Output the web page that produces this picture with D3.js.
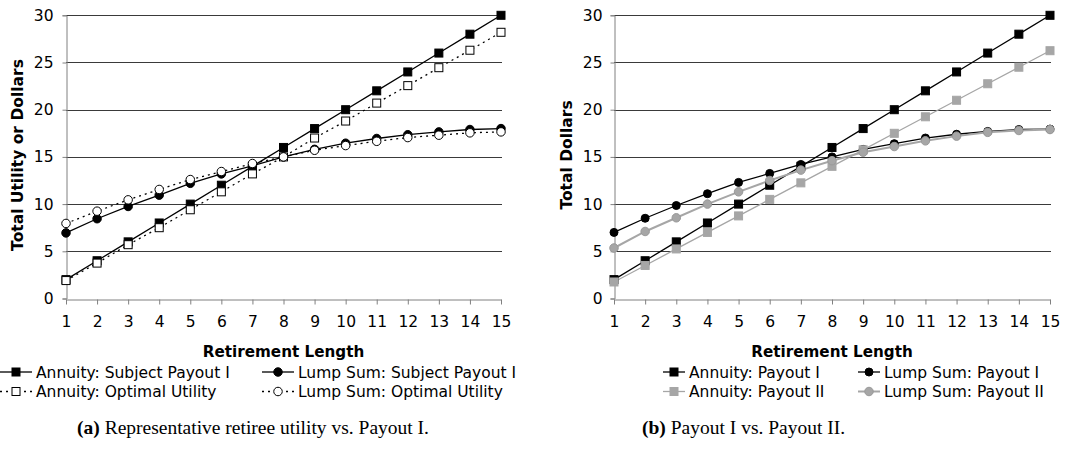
<!DOCTYPE html>
<html>
<head>
<meta charset="utf-8">
<script src="https://cdn.jsdelivr.net/npm/d3@7/dist/d3.min.js"></script>
<style>
  html, body { margin: 0; padding: 0; background: #fff; }
  svg { display: block; }
  text { fill: #000; }
</style>
</head>
<body>
<svg id="fig" width="1073" height="464"></svg>
<script>
// Retirement length in years
const years = [1, 2, 3, 4, 5, 6, 7, 8, 9, 10, 11, 12, 13, 14, 15];
const yTicks = [0, 5, 10, 15, 20, 25, 30];

// Panel (a): representative retiree utility vs. Payout I
const annuitySubjectI   = [2, 4, 6, 8, 10, 12, 14, 16, 18, 20, 22, 24, 26, 28, 30];
const annuityOptimal    = [1.9, 3.75, 5.7, 7.5, 9.4, 11.3, 13.2, 15.0, 17.0, 18.8, 20.7, 22.55, 24.45, 26.3, 28.2];
const lumpSubjectI      = [6.95, 8.45, 9.75, 10.95, 12.2, 13.2, 14.05, 15.0, 15.8, 16.45, 16.95, 17.35, 17.65, 17.9, 18.0];
const lumpOptimal       = [7.95, 9.25, 10.45, 11.55, 12.6, 13.45, 14.3, 15.0, 15.7, 16.2, 16.65, 17.05, 17.3, 17.55, 17.65];

// Panel (b): Payout I vs. Payout II
const annuityPayoutI    = [2, 4, 6, 8, 10, 12, 14, 16, 18, 20, 22, 24, 26, 28, 30];
const lumpPayoutI       = [7.0, 8.5, 9.85, 11.1, 12.3, 13.25, 14.2, 15.0, 15.8, 16.4, 17.0, 17.4, 17.7, 17.9, 17.95];
const annuityPayoutII   = [1.75, 3.5, 5.25, 7.0, 8.75, 10.5, 12.25, 14.0, 15.75, 17.5, 19.25, 21.0, 22.75, 24.5, 26.25];
const lumpPayoutII      = [5.35, 7.1, 8.55, 10.0, 11.3, 12.5, 13.6, 14.6, 15.5, 16.1, 16.7, 17.2, 17.6, 17.8, 17.9];

const sans = "'DejaVu Sans', Verdana, sans-serif";
const serif = "'Liberation Serif', 'DejaVu Serif', serif";
const svg = d3.select("#fig");

function panel(opt) {
  const g = svg.append("g").style("font-family", sans);
  const x = d3.scaleLinear().domain([1, 15]).range([opt.x0, opt.x1]);
  const y = d3.scaleLinear().domain([0, 30]).range([298.5, 15.3]);

  // horizontal gridlines
  g.append("g").selectAll("line").data(yTicks.filter(d => d > 0)).join("line")
    .attr("x1", opt.x0).attr("x2", opt.x1 + 1)
    .attr("y1", d => Math.round(y(d)) + 0.5).attr("y2", d => Math.round(y(d)) + 0.5)
    .attr("stroke", "#3a3a3a").attr("stroke-width", 1);

  // y axis
  const ya = g.append("g").attr("transform", `translate(${Math.round(opt.x0) + 0.5},0)`)
    .call(d3.axisLeft(y).tickValues(yTicks).tickSize(4).tickPadding(opt.ypad));
  ya.select(".domain").attr("stroke", "#808080");
  ya.selectAll(".tick line").attr("stroke", "#808080");
  ya.selectAll("text").style("font-family", sans).style("font-size", "15.5px");

  // x axis
  const xa = g.append("g").attr("transform", `translate(0,${Math.round(y(0)) + 0.5})`)
    .call(d3.axisBottom(x).tickValues(years).tickSize(5).tickPadding(11).tickSizeOuter(0));
  xa.select(".domain").attr("stroke", "#808080");
  xa.selectAll(".tick line").attr("stroke", "#808080");
  xa.selectAll("text").style("font-family", sans).style("font-size", "15.5px");

  // axis titles
  g.append("text").attr("x", (opt.x0 + opt.x1) / 2).attr("y", 357)
    .attr("text-anchor", "middle").attr("font-weight", "bold").style("font-size", "15.2px")
    .text("Retirement Length");
  g.append("text")
    .attr("transform", `translate(${opt.ytx},155) rotate(-90)`)
    .attr("text-anchor", "middle").attr("font-weight", "bold").style("font-size", "15.5px")
    .text(opt.yTitle);

  const line = d3.line().x((d, i) => x(years[i])).y(d => y(d));

  // series
  opt.series.forEach(s => {
    g.append("path").datum(s.values).attr("d", line)
      .attr("fill", "none").attr("stroke", s.stroke).attr("stroke-width", s.width || 1.3)
      .attr("stroke-dasharray", s.dash || null);
  });
  opt.series.forEach(s => {
    const m = g.append("g");
    s.values.forEach((v, i) => drawMarker(m, s, x(years[i]), y(v)));
  });

  // legend
  const lg = g.append("g");
  const L = opt.legendLine;
  opt.series.forEach((s, k) => {
    const col = k % 2, row = Math.floor(k / 2);
    const lx = opt.legend[col], ly = 372 + row * 19.5;
    lg.append("line").attr("x1", lx).attr("x2", lx + L).attr("y1", ly).attr("y2", ly)
      .attr("stroke", s.stroke).attr("stroke-width", s.width || 1.3)
      .attr("stroke-dasharray", s.dash ? "2,4" : null);
    drawMarker(lg, s, lx + L / 2, ly);
    lg.append("text").attr("x", lx + L + 4).attr("y", ly + 5.5).style("font-size", "15.5px")
      .text(s.name);
  });

  // caption
  const cap = svg.append("text").attr("x", opt.capX).attr("y", 434)
    .style("font-family", serif).style("font-size", "19.5px");
  cap.append("tspan").attr("font-weight", "bold").text(opt.capTag);
  cap.append("tspan").text(" " + opt.caption);
}

function drawMarker(g, s, cx, cy) {
  if (s.shape === "square") {
    const h = s.size / 2;
    g.append("rect").attr("x", cx - h).attr("y", cy - h).attr("width", s.size).attr("height", s.size)
      .attr("fill", s.fill).attr("stroke", s.mstroke).attr("stroke-width", 1);
  } else {
    g.append("circle").attr("cx", cx).attr("cy", cy).attr("r", s.size / 2)
      .attr("fill", s.fill).attr("stroke", s.mstroke).attr("stroke-width", 1);
  }
}

const gray = "#a6a6a6";

panel({
  x0: 66, x1: 501, ytx: 23, ypad: 9,
  yTitle: "Total Utility or Dollars",
  legend: [0, 262], legendLine: 32,
  capX: 77, capTag: "(a)", caption: "Representative retiree utility vs. Payout I.",
  series: [
    { name: "Annuity: Subject Payout I", values: annuitySubjectI, stroke: "#000", shape: "square", size: 8, fill: "#000", mstroke: "#000" },
    { name: "Lump Sum: Subject Payout I", values: lumpSubjectI, stroke: "#000", shape: "circle", size: 8.5, fill: "#000", mstroke: "#000" },
    { name: "Annuity: Optimal Utility", values: annuityOptimal, stroke: "#000", dash: "2,4", shape: "square", size: 8, fill: "#fff", mstroke: "#000" },
    { name: "Lump Sum: Optimal Utility", values: lumpOptimal, stroke: "#000", dash: "2,4", shape: "circle", size: 8.5, fill: "#fff", mstroke: "#000" }
  ]
});

panel({
  x0: 614, x1: 1050, ytx: 572, ypad: 8,
  yTitle: "Total Dollars",
  legend: [663, 858], legendLine: 22,
  capX: 642, capTag: "(b)", caption: "Payout I vs. Payout II.",
  series: [
    { name: "Annuity: Payout I", values: annuityPayoutI, stroke: "#000", shape: "square", size: 8, fill: "#000", mstroke: "#000" },
    { name: "Lump Sum: Payout I", values: lumpPayoutI, stroke: "#000", shape: "circle", size: 8, fill: "#000", mstroke: "#000" },
    { name: "Annuity: Payout II", values: annuityPayoutII, stroke: gray, shape: "square", size: 8, fill: gray, mstroke: gray },
    { name: "Lump Sum: Payout II", values: lumpPayoutII, stroke: gray, width: 2, shape: "circle", size: 8.5, fill: gray, mstroke: "#999" }
  ]
});
</script>
</body>
</html>
